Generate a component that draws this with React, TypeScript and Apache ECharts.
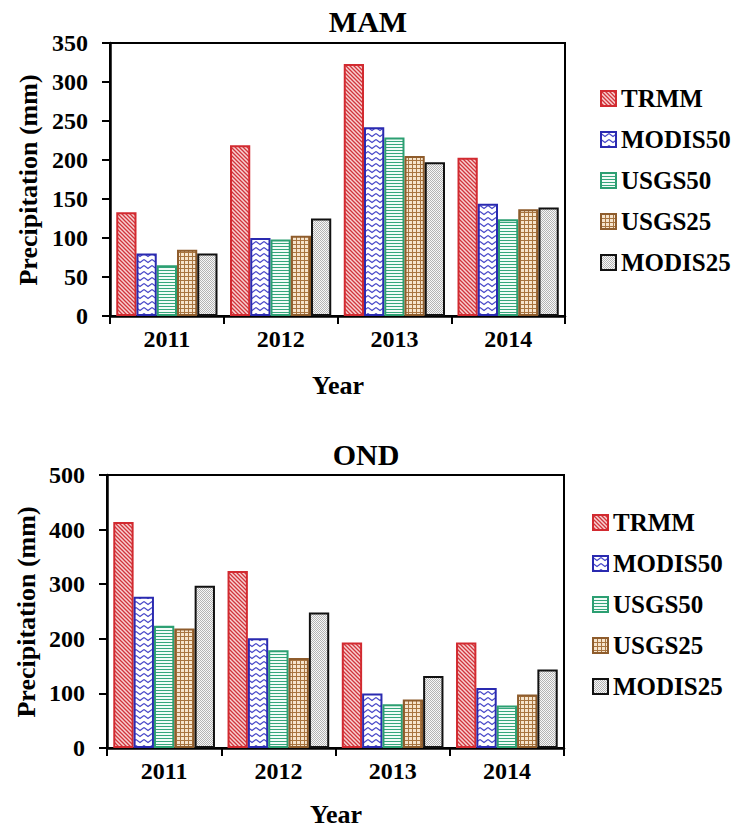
import React, { useEffect, useRef } from "react";
import * as echarts from "echarts";

// Seasonal precipitation (mm) by product and year
const years = ["2011", "2012", "2013", "2014"];
const seriesNames = ["TRMM", "MODIS50", "USGS50", "USGS25", "MODIS25"];

const mamTRMM = [133, 219, 323, 203];
const mamMODIS50 = [80, 100, 242, 144];
const mamUSGS50 = [65, 98, 229, 124];
const mamUSGS25 = [85, 103, 205, 137];
const mamMODIS25 = [80, 125, 197, 139];

const ondTRMM = [414, 324, 193, 193];
const ondMODIS50 = [277, 201, 100, 110];
const ondUSGS50 = [224, 179, 80, 78];
const ondUSGS25 = [219, 165, 89, 98];
const ondMODIS25 = [297, 248, 132, 144];

const mamAxis = { max: 350, interval: 50 };
const ondAxis = { max: 500, interval: 100 };

const FONT = "'Liberation Serif', 'Times New Roman', serif";

type Draw = (ctx: CanvasRenderingContext2D) => void;

function tile(w: number, h: number, draw: Draw) {
  const c = document.createElement("canvas");
  c.width = w;
  c.height = h;
  const ctx = c.getContext("2d")!;
  draw(ctx);
  return { image: c, repeat: "repeat", imageWidth: w, imageHeight: h };
}

function makePatterns() {
  const hatch = tile(4, 4, (ctx) => {
    ctx.fillStyle = "#f8d2d2";
    ctx.fillRect(0, 0, 4, 4);
    ctx.strokeStyle = "#d1353c";
    ctx.lineWidth = 1.3;
    ctx.beginPath();
    ctx.moveTo(-1, -1);
    ctx.lineTo(5, 5);
    ctx.moveTo(-1, 3);
    ctx.lineTo(1, 5);
    ctx.moveTo(3, -1);
    ctx.lineTo(5, 1);
    ctx.stroke();
  });
  const wave = tile(8, 6, (ctx) => {
    ctx.fillStyle = "#ffffff";
    ctx.fillRect(0, 0, 8, 6);
    ctx.strokeStyle = "#4646c8";
    ctx.lineWidth = 1.1;
    ctx.beginPath();
    ctx.moveTo(0, 1.5);
    ctx.lineTo(4, 4.5);
    ctx.lineTo(8, 1.5);
    ctx.stroke();
  });
  const stripes = tile(4, 3, (ctx) => {
    ctx.fillStyle = "#f2fbf7";
    ctx.fillRect(0, 0, 4, 3);
    ctx.fillStyle = "#35a67c";
    ctx.fillRect(0, 0, 4, 1);
  });
  const grid = tile(4, 4, (ctx) => {
    ctx.fillStyle = "#f6e4cc";
    ctx.fillRect(0, 0, 4, 4);
    ctx.fillStyle = "#a8743f";
    ctx.fillRect(0, 0, 4, 1);
    ctx.fillRect(0, 0, 1, 4);
  });
  const dots = tile(2, 2, (ctx) => {
    ctx.fillStyle = "#f8f8f8";
    ctx.fillRect(0, 0, 2, 2);
    ctx.fillStyle = "#b4b4b4";
    ctx.fillRect(0, 0, 1, 1);
    ctx.fillRect(1, 1, 1, 1);
  });
  return [hatch, wave, stripes, grid, dots];
}

const borderColors = ["#d22a30", "#2a2ab0", "#2c9f72", "#8e5c2c", "#111111"];

export default function App() {
  const ref = useRef<HTMLDivElement>(null);

  useEffect(() => {
    document.body.style.margin = "0";
    if (!ref.current) return;
    const chart = echarts.init(ref.current, undefined, { renderer: "svg" });
    const fills = makePatterns();

    const mamData = [mamTRMM, mamMODIS50, mamUSGS50, mamUSGS25, mamMODIS25];
    const ondData = [ondTRMM, ondMODIS50, ondUSGS50, ondUSGS25, ondMODIS25];

    const makeSeries = (data: number[][], idx: number) =>
      data.map((vals, i) => ({
        name: seriesNames[i],
        type: "bar",
        xAxisIndex: idx,
        yAxisIndex: idx,
        data: vals,
        barGap: "0%",
        barCategoryGap: "11%",
        itemStyle: {
          color: fills[i],
          borderColor: borderColors[i],
          borderWidth: 2,
        },
      }));

    const tickLabel = {
      fontFamily: FONT,
      fontWeight: "bold",
      fontSize: 24,
      color: "#000",
    };

    const xAxis = (gridIndex: number) => ({
      type: "category",
      gridIndex,
      data: years,
      axisLine: { lineStyle: { color: "#000", width: 2.5 } },
      axisTick: { show: true, length: 8, lineStyle: { color: "#000", width: 2 } },
      axisLabel: { ...tickLabel, margin: 11 },
    });

    const yAxis = (gridIndex: number, cfg: { max: number; interval: number }) => ({
      type: "value",
      gridIndex,
      min: 0,
      max: cfg.max,
      interval: cfg.interval,
      axisLine: { show: true, lineStyle: { color: "#000", width: 2.5 } },
      axisTick: { show: true, length: 8, lineStyle: { color: "#000", width: 2 } },
      axisLabel: { ...tickLabel, margin: 22 },
      splitLine: { show: false },
    });

    const legend = (left: number, top: number) => ({
      orient: "vertical",
      left,
      top,
      padding: 0,
      icon: "rect",
      itemWidth: 15,
      itemHeight: 15,
      itemGap: 16,
      selectedMode: false,
      data: seriesNames,
      textStyle: {
        fontFamily: FONT,
        fontWeight: "bold",
        fontSize: 25,
        lineHeight: 25,
        color: "#000",
      },
    });

    const label = (text: string, x: number, y: number, size: number, rotate = 0) => ({
      type: "text",
      x,
      y,
      rotation: rotate,
      style: {
        text,
        fontFamily: FONT,
        fontWeight: "bold",
        fontSize: size,
        fill: "#000",
        align: "center",
        verticalAlign: "middle",
      },
    });

    chart.setOption({
      animation: false,
      backgroundColor: "#fff",
      grid: [
        { left: 110, top: 43, right: 172, bottom: 514, show: true, borderColor: "#000", borderWidth: 2 },
        { left: 107, top: 475, right: 173, bottom: 82, show: true, borderColor: "#000", borderWidth: 2 },
      ],
      xAxis: [xAxis(0), xAxis(1)],
      yAxis: [yAxis(0, mamAxis), yAxis(1, ondAxis)],
      legend: [legend(600, 86), legend(592, 510)],
      series: [...makeSeries(mamData, 0), ...makeSeries(ondData, 1)],
      graphic: [
        label("MAM", 368, 21, 30),
        label("OND", 366, 454, 30),
        label("Precipitation (mm)", 28, 180, 26, Math.PI / 2),
        label("Precipitation (mm)", 26, 612, 26, Math.PI / 2),
        label("Year", 338, 385, 26),
        label("Year", 336, 814, 26),
      ],
    });

    return () => chart.dispose();
  }, []);

  return <div ref={ref} style={{ width: 737, height: 830 }} />;
}
